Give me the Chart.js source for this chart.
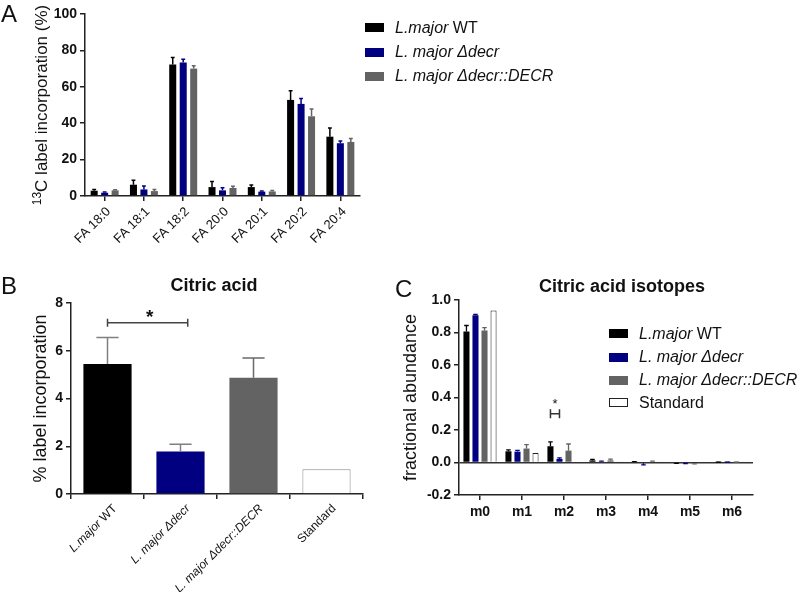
<!DOCTYPE html>
<html><head><meta charset="utf-8">
<script src="https://cdn.jsdelivr.net/npm/chart.js@4.4.0/dist/chart.umd.min.js"></script>
<style>
html,body{margin:0;padding:0;background:#fff;}
body{width:800px;height:592px;position:relative;overflow:hidden;font-family:"Liberation Sans",Arial,sans-serif;color:#111;}
canvas{position:absolute;}
.abs{position:absolute;white-space:nowrap;}
.letter{font-size:24px;line-height:24px;}
.title{font-size:18px;line-height:22px;font-weight:bold;text-align:center;width:260px;}
.leg{font-size:16px;line-height:20px;}
.sw{position:absolute;width:19px;height:9px;}
.ytitle{font-size:17px;line-height:22px;width:240px;text-align:center;transform:rotate(-90deg);transform-origin:50% 50%;}
.ytitle sup{font-size:12px;line-height:0;vertical-align:6px;}
</style></head><body>
<canvas id="cA" width="370" height="270" style="left:0;top:0;width:370px;height:270px"></canvas>
<canvas id="cB" width="365" height="322" style="left:0;top:270px;width:365px;height:322px"></canvas>
<canvas id="cC" width="435" height="322" style="left:365px;top:270px;width:435px;height:322px"></canvas>

<div class="abs letter" style="left:1px;top:2px">A</div>
<div class="abs letter" style="left:1px;top:274px">B</div>
<div class="abs letter" style="left:395px;top:277px">C</div>

<div class="abs ytitle" style="left:-78px;top:94px"><sup>13</sup>C label incorporation (%)</div>

<div class="abs title" style="left:84px;top:274px">Citric acid</div>
<div class="abs title" style="left:492px;top:275px">Citric acid isotopes</div>

<div id="legA"></div>
<div id="legC"></div>

<script>
// ---------------- data ----------------
const faCategories = ['FA 18:0','FA 18:1','FA 18:2','FA 20:0','FA 20:1','FA 20:2','FA 20:4'];
const faWT        = [2.9, 6.2, 72.3, 4.9, 4.9, 52.8, 32.6];
const faWTErr     = [0.7, 2.5, 3.8, 3.1, 1.1, 5.0, 4.8];
const faDecr      = [1.8, 3.6, 73.4, 3.1, 2.4, 50.6, 29.0];
const faDecrErr   = [0.4, 1.9, 1.8, 1.4, 0.3, 3.0, 1.2];
const faComp      = [3.1, 2.7, 70.0, 4.4, 2.5, 43.8, 29.7];
const faCompErr   = [0.4, 0.9, 1.5, 0.9, 0.5, 4.0, 1.9];

const seriesNames  = ['L.major WT', 'L. major \u0394decr', 'L. major \u0394decr::DECR', 'Standard'];
const seriesItalic = ['L.major', 'L. major \u0394decr', 'L. major \u0394decr::DECR', ''];

const citricCategories = seriesNames;
const citricValues = [5.45, 1.78, 4.87, 1.04];
const citricErr    = [1.10, 0.30, 0.83, 0];

const isoCategories = ['m0','m1','m2','m3','m4','m5','m6'];
const isoWT       = [0.806, 0.069, 0.100, 0.013, 0.003, -0.003, 0.001];
const isoWTErr    = [0.037, 0.009, 0.027, 0.006, 0.002, 0.002, 0.001];
const isoDecr     = [0.906, 0.067, 0.022, 0.004, -0.005, -0.004, 0.001];
const isoDecrErr  = [0.006, 0.008, 0.007, 0.004, 0.010, 0.002, 0.001];
const isoComp     = [0.812, 0.086, 0.073, 0.013, 0.005, -0.005, 0.001];
const isoCompErr  = [0.018, 0.024, 0.041, 0.008, 0.004, 0.003, 0.001];
const isoStd      = [0.935, 0.059, 0, 0.002, 0.001, 0, 0.001];

const yTicksA = [0, 20, 40, 60, 80, 100];
const yTicksB = [0, 2, 4, 6, 8];
const yTicksC = [-0.2, 0, 0.2, 0.4, 0.6, 0.8, 1.0];

// ---------------- style ----------------
const FONT = '"Liberation Sans", Arial, sans-serif';
const BLACK = '#000000', NAVY = '#000080', GRAY = '#636363';
const AXIS = '#222222';
Chart.defaults.font.family = FONT;
Chart.defaults.color = '#111';
Chart.defaults.animation = false;

// legends (HTML)
function buildLegend(el, left, textLeft, centers, n) {
  const fills = [BLACK, NAVY, GRAY, '#ffffff'];
  let h = '';
  for (let i = 0; i < n; i++) {
    const c = centers[i];
    const border = i === 3 ? 'border:1px solid #222;box-sizing:border-box;' : '';
    h += `<div class="sw" style="left:${left}px;top:${c-4.5}px;background:${fills[i]};${border}"></div>`;
    const it = seriesItalic[i], rest = seriesNames[i].slice(it.length);
    h += `<div class="abs leg" style="left:${textLeft}px;top:${c-10}px">${it ? '<i>'+it+'</i>' : ''}${rest}</div>`;
  }
  el.innerHTML = h;
}
buildLegend(document.getElementById('legA'), 365, 395, [27.5, 52, 76], 3);
buildLegend(document.getElementById('legC'), 609, 639, [333.5, 357, 380, 402.5], 4);

// error bars plugin
const errorBars = {
  id: 'errorBars',
  afterDatasetsDraw(chart, args, opts) {
    const ctx = chart.ctx, y = chart.scales.y;
    chart.data.datasets.forEach((ds, i) => {
      if (!ds.errors) return;
      const meta = chart.getDatasetMeta(i);
      meta.data.forEach((bar, j) => {
        const e = ds.errors[j];
        if (!e) return;
        const v = ds.data[j];
        const s = v < 0 ? -1 : 1;
        const y0 = y.getPixelForValue(v), y1 = y.getPixelForValue(v + s * e);
        const hw = opts.capRatio * bar.width / 2;
        ctx.save();
        ctx.strokeStyle = Array.isArray(ds.errColor) ? ds.errColor[j] : ds.errColor;
        ctx.lineWidth = opts.lineWidth || 1.5;
        ctx.beginPath();
        ctx.moveTo(bar.x, y0); ctx.lineTo(bar.x, y1);
        ctx.moveTo(bar.x - hw, y1); ctx.lineTo(bar.x + hw, y1);
        ctx.stroke();
        ctx.restore();
      });
    });
  }
};

function bracket(ctx, x0, x1, y, color, tick) {
  ctx.save();
  ctx.strokeStyle = color; ctx.lineWidth = 1.5;
  ctx.beginPath();
  ctx.moveTo(x0, y); ctx.lineTo(x1, y);
  ctx.moveTo(x0, y - tick); ctx.lineTo(x0, y + tick);
  ctx.moveTo(x1, y - tick); ctx.lineTo(x1, y + tick);
  ctx.stroke();
  ctx.restore();
}

function axisX(extra) {
  return Object.assign({
    border: {color: AXIS, width: 1.5},
    grid: {drawOnChartArea: false, drawTicks: true, tickLength: 5, tickColor: AXIS, lineWidth: 1.5, offset: false},
  }, extra);
}

// ---------------- Chart A ----------------
new Chart(document.getElementById('cA'), {
  type: 'bar',
  data: {
    labels: faCategories,
    datasets: [
      {label: seriesNames[0], data: faWT,   errors: faWTErr,   backgroundColor: BLACK, errColor: BLACK},
      {label: seriesNames[1], data: faDecr, errors: faDecrErr, backgroundColor: NAVY,  errColor: NAVY},
      {label: seriesNames[2], data: faComp, errors: faCompErr, backgroundColor: GRAY,  errColor: GRAY}
    ]
  },
  options: {
    responsive: false,
    layout: {padding: {left: 0, top: 14, right: 10, bottom: 0}},
    datasets: {bar: {categoryPercentage: 0.80, barPercentage: 0.67}},
    plugins: {legend: {display: false}, tooltip: {enabled: false}, errorBars: {capRatio: 0.55, lineWidth: 1.5}},
    scales: {
      x: axisX({
        ticks: {minRotation: 45, maxRotation: 45, padding: 3, labelOffset: 4, font: {size: 13}, color: '#111'},
        afterFit: s => { s.height = 74; }
      }),
      y: {
        min: 0, max: 100,
        afterBuildTicks: s => { s.ticks = yTicksA.map(v => ({value: v})); },
        border: {color: AXIS, width: 1.5},
        grid: {drawOnChartArea: false, tickLength: 5, tickColor: AXIS, lineWidth: 1.5},
        ticks: {font: {size: 14, weight: 'bold'}, padding: 3, color: '#111'},
        afterFit: s => { s.width = 85; }
      }
    }
  },
  plugins: [errorBars]
});

// ---------------- Chart B ----------------
const bLabels = {
  id: 'bLabels',
  afterDraw(chart) {
    const ctx = chart.ctx, xs = chart.scales.x, ys = chart.scales.y;
    citricCategories.forEach((lab, i) => {
      const x = xs.getPixelForValue(i), y = xs.top;
      const it = seriesItalic[i], rest = lab.slice(it.length);
      ctx.save();
      ctx.translate(x + 10, y + 15);
      ctx.rotate(-Math.PI / 4);
      ctx.fillStyle = '#111';
      ctx.textBaseline = 'alphabetic';
      ctx.textAlign = 'left';
      ctx.font = 'italic 12px ' + FONT;
      const w1 = ctx.measureText(it).width;
      ctx.font = '12px ' + FONT;
      const w2 = ctx.measureText(rest).width;
      let cx = -(w1 + w2);
      ctx.font = 'italic 12px ' + FONT;
      ctx.fillText(it, cx, 0);
      cx += w1;
      ctx.font = '12px ' + FONT;
      ctx.fillText(rest, cx, 0);
      ctx.restore();
    });
    // significance bracket between WT and decr
    const m = chart.getDatasetMeta(0).data;
    const yb = ys.getPixelForValue(7.17);
    const x0 = m[0].x, x1 = m[1].x + m[1].width * 0.15;
    bracket(ctx, x0, x1, yb, '#444', 4);
    ctx.save();
    ctx.fillStyle = '#111';
    ctx.font = 'bold 19px ' + FONT;
    ctx.textAlign = 'center';
    ctx.textBaseline = 'alphabetic';
    ctx.fillText('*', (x0 + x1) / 2 + 2, yb);
    ctx.restore();
  }
};

new Chart(document.getElementById('cB'), {
  type: 'bar',
  data: {
    labels: citricCategories,
    datasets: [{
      label: 'Citric acid',
      data: citricValues,
      errors: citricErr,
      backgroundColor: [BLACK, NAVY, GRAY, '#ffffff'],
      borderColor: ['#000', '#000', '#000', '#8a8a8a'],
      borderWidth: [0, 0, 0, 1],
      errColor: ['#7f7f7f', '#7f7f7f', '#6a6a6a', '#7f7f7f']
    }]
  },
  options: {
    responsive: false,
    layout: {padding: {left: 0, top: 33, right: 2, bottom: 0}},
    datasets: {bar: {categoryPercentage: 1, barPercentage: 0.66}},
    plugins: {legend: {display: false}, tooltip: {enabled: false}, errorBars: {capRatio: 0.46, lineWidth: 1.5}},
    scales: {
      x: axisX({
        grid: {drawOnChartArea: false, drawTicks: true, tickLength: 5, tickColor: AXIS, lineWidth: 1.5, offset: true},
        ticks: {display: false},
        afterFit: s => { s.height = 98; }
      }),
      y: {
        min: 0, max: 8,
        afterBuildTicks: s => { s.ticks = yTicksB.map(v => ({value: v})); },
        border: {color: AXIS, width: 1.5},
        grid: {drawOnChartArea: false, tickLength: 5, tickColor: AXIS, lineWidth: 1.5},
        ticks: {font: {size: 14, weight: 'bold'}, padding: 3, color: '#111'},
        title: {display: true, text: '% label incorporation', font: {size: 18}, color: '#111', padding: {top: 30, bottom: 0}},
        afterFit: s => { s.width = 71; }
      }
    }
  },
  plugins: [errorBars, bLabels]
});

// ---------------- Chart C ----------------
const cSig = {
  id: 'cSig',
  afterDraw(chart) {
    const ctx = chart.ctx, ys = chart.scales.y;
    const a = chart.getDatasetMeta(0).data[2], b = chart.getDatasetMeta(1).data[2];
    const yb = ys.getPixelForValue(0.30);
    bracket(ctx, a.x, b.x, yb, '#333', 4.5);
    ctx.save();
    ctx.fillStyle = '#111';
    ctx.font = '13px ' + FONT;
    ctx.textAlign = 'center';
    ctx.textBaseline = 'alphabetic';
    ctx.fillText('*', (a.x + b.x) / 2, yb - 6);
    ctx.restore();
  }
};

new Chart(document.getElementById('cC'), {
  type: 'bar',
  data: {
    labels: isoCategories,
    datasets: [
      {label: seriesNames[0], data: isoWT,   errors: isoWTErr,   backgroundColor: BLACK, errColor: BLACK},
      {label: seriesNames[1], data: isoDecr, errors: isoDecrErr, backgroundColor: NAVY,  errColor: NAVY},
      {label: seriesNames[2], data: isoComp, errors: isoCompErr, backgroundColor: GRAY,  errColor: GRAY},
      {label: seriesNames[3], data: isoStd, backgroundColor: '#ffffff', borderColor: '#222', borderWidth: 1}
    ]
  },
  options: {
    responsive: false,
    layout: {padding: {left: 0, top: 30, right: 47, bottom: 0}},
    datasets: {bar: {categoryPercentage: 0.86, barPercentage: 0.67}},
    plugins: {legend: {display: false}, tooltip: {enabled: false}, errorBars: {capRatio: 0.75, lineWidth: 1.3}},
    scales: {
      x: axisX({
        ticks: {font: {size: 14, weight: 'bold'}, padding: 4, color: '#111'},
        afterFit: s => { s.height = 97; }
      }),
      y: {
        min: -0.2, max: 1.0,
        afterBuildTicks: s => { s.ticks = yTicksC.map(v => ({value: v})); },
        border: {color: AXIS, width: 1.5},
        grid: {
          drawOnChartArea: true, tickLength: 5, tickColor: AXIS, lineWidth: 1.5,
          color: c => (c.tick && Math.abs(c.tick.value) < 1e-9) ? '#333' : 'rgba(0,0,0,0)'
        },
        ticks: {font: {size: 14, weight: 'bold'}, padding: 3, color: '#111', callback: v => Number(v).toFixed(1)},
        title: {display: true, text: 'fractional abundance', font: {size: 18}, color: '#111', padding: {top: 35, bottom: 0}},
        afterFit: s => { s.width = 94; }
      }
    }
  },
  plugins: [errorBars, cSig]
});
</script>
</body></html>
